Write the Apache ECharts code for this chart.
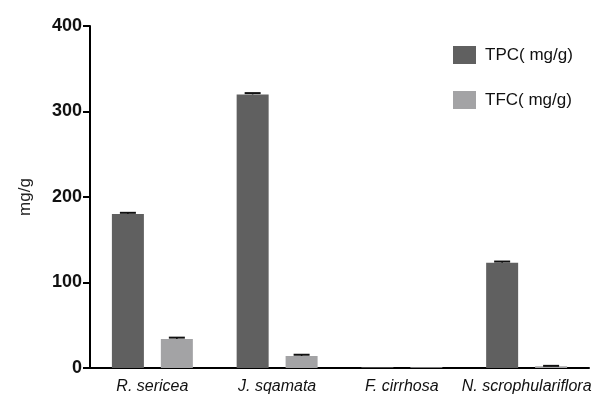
<!DOCTYPE html>
<html>
<head>
<meta charset="utf-8">
<script src="https://cdn.jsdelivr.net/npm/echarts@6/dist/echarts.min.js"></script>
<style>
  html, body { margin: 0; padding: 0; background: #fff; }
  #chart { width: 601px; height: 407px; }
</style>
</head>
<body>
<div id="chart"></div>
<script>
const categories = ['R. sericea', 'J. sqamata', 'F. cirrhosa', 'N. scrophulariflora'];
const tpc = [180, 320, 1, 123];
const tfc = [34, 14, 1, 2];
const tpcErr = [1.5, 1.5, 0, 1.5];
const tfcErr = [1.5, 1.5, 0, 0.5];
const yTicks = [0, 100, 200, 300, 400];

const BAR_W = 32;
const GAP = 0.53;
const sans = '"Liberation Sans", Arial, sans-serif';

function errorSeries(values, errs, side) {
  return {
    type: 'custom',
    z: 5,
    silent: true,
    data: values.map((v, i) => [i, v, errs[i]]),
    renderItem: function (params, api) {
      const idx = api.value(0);
      const v = api.value(1);
      const e = api.value(2);
      if (!e) return null;
      const base = api.coord([idx, v]);
      const top = api.coord([idx, v + e]);
      const x = base[0] + side * (BAR_W * (1 + GAP)) / 2;
      const half = 8;
      return {
        type: 'group',
        children: [
          { type: 'line', shape: { x1: x, y1: base[1], x2: x, y2: top[1] },
            style: { stroke: '#111', lineWidth: 1.5 } },
          { type: 'line', shape: { x1: x - half, y1: top[1], x2: x + half, y2: top[1] },
            style: { stroke: '#111', lineWidth: 2 } }
        ]
      };
    }
  };
}

const chart = echarts.init(document.getElementById('chart'));
chart.setOption({
  animation: false,
  grid: { left: 90, right: 12, top: 26, bottom: 39 },
  legend: {
    orient: 'vertical',
    left: 448,
    top: 41,
    icon: 'rect',
    itemWidth: 23,
    itemHeight: 18,
    itemGap: 27,
    selectedMode: false,
    data: ['TPC( mg/g)', 'TFC( mg/g)'],
    textStyle: { fontFamily: sans, fontSize: 17, color: '#111', padding: [0, 0, 0, 4] }
  },
  xAxis: {
    type: 'category',
    data: categories,
    axisLine: { lineStyle: { color: '#000', width: 2 } },
    axisTick: { alignWithLabel: true, interval: 0, length: 7, lineStyle: { color: '#000', width: 2 } },
    axisLabel: {
      interval: 0,
      fontFamily: sans, fontStyle: 'italic', fontSize: 16, color: '#111', margin: 11
    }
  },
  yAxis: {
    type: 'value',
    min: yTicks[0],
    max: yTicks[yTicks.length - 1],
    interval: 100,
    name: 'mg/g',
    nameLocation: 'middle',
    nameGap: 56,
    nameRotate: 90,
    nameTextStyle: { fontFamily: sans, fontSize: 17, color: '#222' },
    splitLine: { show: false },
    axisLine: { show: true, lineStyle: { color: '#000', width: 2 } },
    axisTick: { show: true, length: 7, lineStyle: { color: '#000', width: 2 } },
    axisLabel: {
      fontFamily: sans, fontWeight: 'bold', fontSize: 18, color: '#111', margin: 8
    }
  },
  series: [
    {
      name: 'TPC( mg/g)',
      type: 'bar',
      data: tpc,
      barWidth: BAR_W,
      barGap: (GAP * 100) + '%',
      itemStyle: { color: '#606060' }
    },
    {
      name: 'TFC( mg/g)',
      type: 'bar',
      data: tfc,
      barWidth: BAR_W,
      itemStyle: { color: '#a3a3a5' }
    },
    errorSeries(tpc, tpcErr, -1),
    errorSeries(tfc, tfcErr, 1)
  ]
});
</script>
</body>
</html>
